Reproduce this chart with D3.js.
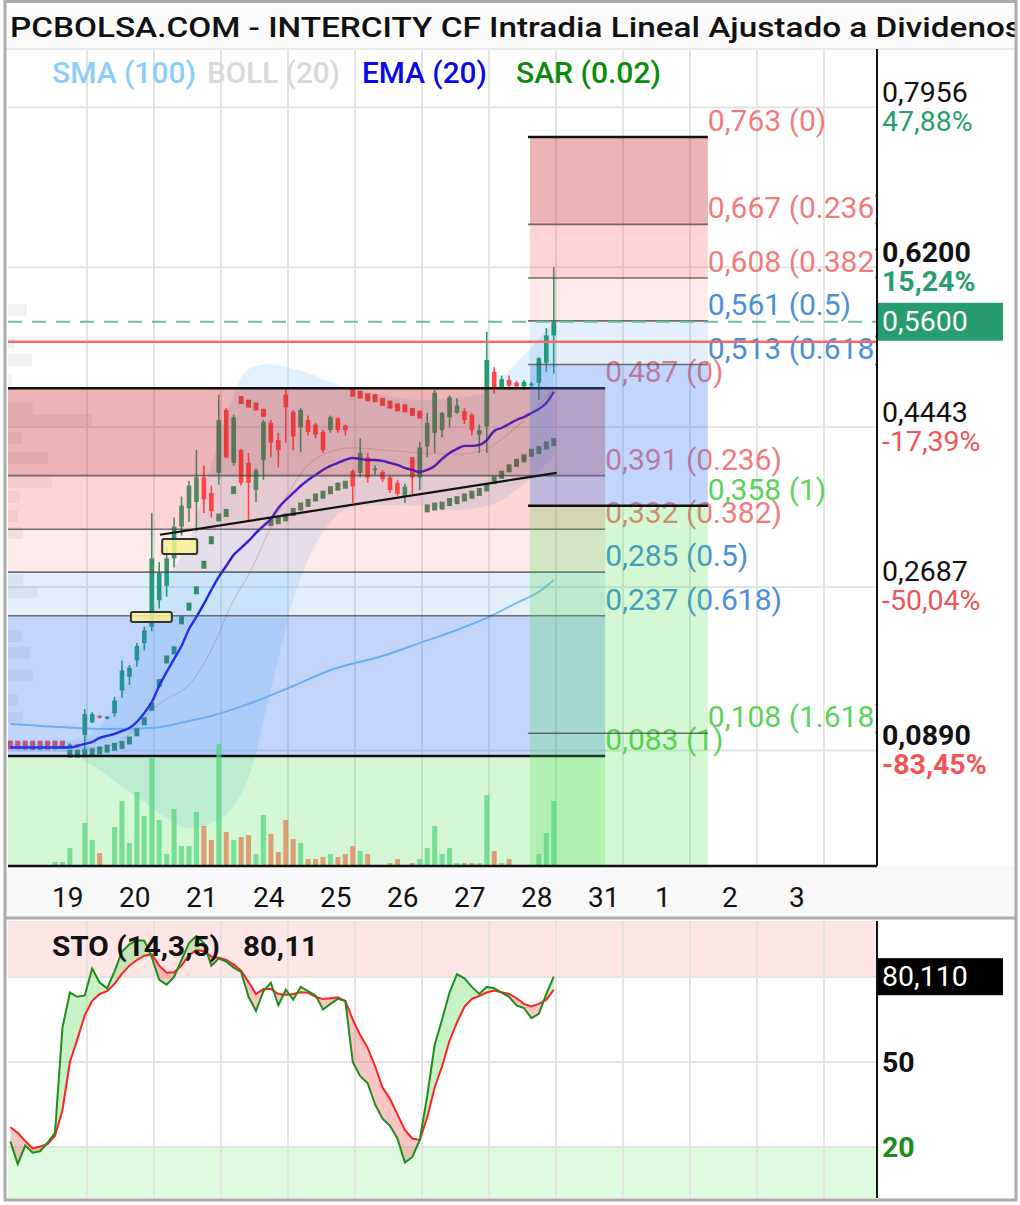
<!DOCTYPE html>
<html><head><meta charset="utf-8">
<script src="https://cdn.jsdelivr.net/npm/d3@7"></script>
<style>body{margin:0;background:#fff;} text{font-family:Roboto,"DejaVu Sans",sans-serif;}</style>
</head><body><svg id="c" width="1020" height="1205"></svg>
<script>
// ---------------- DATA ----------------
const titleText = "PCBOLSA.COM - INTERCITY CF Intradia Lineal Ajustado a Dividenos";
const legendNames = ["SMA (100)", "BOLL (20)", "EMA (20)", "SAR (0.02)"];
const legendColors = ["#8fcdf7", "#d8d8d8", "#0a0ae6", "#0b8a0b"];
const dayLabels = ["19","20","21","24","25","26","27","28","31","1","2","3"];
const firstSlot = -2; // slot of first candle (9 slots per day)
const candleOpen  = [.092,.0918,.0915,.0912,.091,.0915,.0912,.092,.093,.0955,.106,.120,.127,.124,.130,.155,.170,.188,.207,.225,.254,.270,.300,.335,.355,.362,.389,.372,.394,.463,.405,.419,.405,.375,.408,.449,.430,.480,.461,.444,.452,.447,.439,.441,.454,.446,.396,.394,.411,.397,.395,.389,.383,.368,.411,.389,.423,.438,.441,.455,.460,.462,.458,.436,.445,.505,.488,.496,.493,.489,.490,.493,.515,.545];
const candleHigh  = [.0925,.0925,.0922,.092,.092,.092,.0925,.0935,.097,.0965,.1346,.131,.128,.127,.148,.188,.183,.207,.225,.350,.296,.313,.345,.368,.385,.419,.402,.380,.480,.465,.458,.420,.416,.399,.452,.452,.438,.486,.463,.465,.457,.449,.441,.457,.455,.447,.398,.432,.416,.402,.397,.392,.386,.382,.411,.428,.460,.485,.461,.479,.476,.465,.460,.447,.549,.510,.501,.501,.495,.496,.494,.521,.553,.620];
const candleLow   = [.0912,.091,.0908,.0905,.0905,.091,.0905,.0915,.092,.092,.089,.119,.124,.123,.126,.147,.161,.181,.199,.220,.245,.258,.290,.325,.340,.330,.350,.345,.381,.410,.402,.380,.342,.362,.386,.411,.400,.427,.419,.417,.435,.432,.416,.438,.438,.435,.361,.389,.383,.392,.384,.372,.369,.361,.371,.375,.411,.416,.433,.444,.459,.448,.435,.416,.416,.481,.487,.485,.487,.485,.488,.474,.505,.503];
const candleClose = [.0918,.0915,.0912,.091,.0915,.0912,.092,.093,.0955,.093,.129,.129,.125,.126,.144,.177,.180,.204,.221,.300,.284,.300,.335,.358,.380,.389,.365,.352,.452,.411,.455,.383,.383,.397,.450,.427,.419,.466,.434,.463,.439,.436,.419,.455,.441,.441,.379,.416,.389,.399,.387,.375,.371,.379,.389,.422,.449,.482,.460,.477,.468,.452,.441,.441,.518,.488,.497,.490,.489,.494,.492,.520,.545,.560];
const volume = [0,0,0,0,0,0,4,4,18,0,43,26,13,0,39,65,23,74,50,108,46,12,57,20,20,54,40,26,122,34,26,29,31,12,51,32,14,46,27,23,7,7,9,12,9,12,20,15,12,0,0,3,7,0,3,7,18,40,12,18,3,3,3,3,71,15,3,7,0,0,0,12,33,65];
const emaValues = [.0923,.0923,.0923,.0923,.0923,.0923,.0923,.0923,.0923,.0940,.0962,.0984,.1028,.1050,.1072,.1105,.1138,.1204,.1302,.1423,.1599,.1753,.1896,.2038,.2225,.2357,.2500,.2654,.2797,.2917,.3038,.3115,.3192,.3280,.3357,.3434,.3554,.3642,.3719,.3796,.3862,.3917,.3972,.4016,.4049,.4082,.4104,.4093,.4082,.4082,.4071,.4049,.4027,.3994,.3972,.3950,.3972,.4016,.4093,.4159,.4203,.4236,.4236,.4247,.4301,.4400,.4433,.4477,.4521,.4554,.4598,.4642,.4708,.4829];
const sarValues = [.0955,.0955,.0955,.0955,.0955,.0955,.0955,.0955,.0855,.0855,.086,.087,.089,.091,.093,.095,.100,.109,.121,.137,.163,.189,.199,.232,.247,.265,.293,.320,.345,.350,.375,.474,.470,.467,.460,.340,.342,.345,.351,.357,.361,.367,.370,.375,.379,.381,.482,.480,.477,.476,.472,.469,.466,.465,.461,.458,.355,.357,.358,.362,.364,.367,.370,.373,.378,.386,.392,.399,.405,.410,.416,.419,.424,.428];
const sarUp = [0,0,0,0,0,0,0,0,1,1,1,1,1,1,1,1,1,1,1,1,1,1,1,1,1,1,1,1,1,1,1,0,0,0,0,1,1,1,1,1,1,1,1,1,1,1,0,0,0,0,0,0,0,0,0,0,1,1,1,1,1,1,1,1,1,1,1,1,1,1,1,1,1,1];
const bbSlots = [-2,5,7,10,13,15,17,19,22,25,28,30,33,36,38,41,44,48,53,58,62,64,66,69,71];
const bbUpper = [.0984,.0984,.1017,.1149,.1533,.1918,.2412,.2764,.3181,.4027,.4818,.5081,.5136,.5081,.5038,.4938,.4862,.4796,.4741,.4763,.4829,.4983,.5147,.5411,.5598];
const bbMiddle = [.0929,.0929,.0918,.0918,.1006,.1149,.1336,.1456,.1610,.1995,.2544,.2819,.3346,.3807,.4027,.4170,.4214,.4191,.4158,.4147,.4202,.4312,.4444,.4686,.4862];
const bbLower = [.0874,.0874,.0819,.0676,.0490,.0380,.0259,.0149,.0039,.0094,.0281,.0588,.1555,.2544,.2983,.3400,.3565,.3587,.3576,.3532,.3576,.3642,.3752,.3950,.4126];
const smaSlots = [-2,7,10,17,22,25,30,36,41,48,53,58,62,66,69,71];
const smaValues = [.1182,.1138,.1127,.1138,.1215,.1270,.1402,.1599,.1775,.1929,.2071,.2214,.2346,.2511,.2632,.2764];
const stoK = [22,14,20.5,18,18.5,21.5,25,62,74.5,73,73.5,83,78,76,82,89,91.5,93,92.8,87,79,77.3,80,86,92,94.5,92,84,86.5,85.4,83.3,81.8,73,68,75,78,70,75.5,72,76.5,75,73.5,68.5,70.5,72.3,71.5,50,45,42.5,35,30,27.5,23,14.5,16.5,22.5,38,56,65,74.6,81,79.5,76.5,74,76.5,76,74.5,73,70,69,65.5,67,74,80.11];
const stoD = [27,25,22.1,19.5,20.2,21,24,33,50,58,66.5,71.6,74,75,77.6,81.2,84,86,87.5,88,84,81.5,81.7,84,87.8,89.4,89.2,87.2,86.8,86,84.4,82.2,78.2,74,75.8,75.8,74,73.7,74,74.6,74.4,73,72.2,72.5,72.8,71.5,65,59.5,55,48.5,41,37,31.5,26,23,22.5,30.5,41,48.5,57.5,64,69.5,72.3,73.3,74.5,75.2,74.6,74,72.5,70.5,69.6,70.5,72,75.5];
const profilePrice = [.5730,.5368,.5180,.4961,.4653,.4521,.4323,.4104,.3840,.3675,.3467,.3280,.2764,.2632,.2148,.1962,.1720,.1445,.1248];
const profileVol = [19,7,24,4,25,84,14,40,44,12,10,15,15,30,14,22,25,10,15];
const leftFibLevels = [0.487,0.391,0.332,0.285,0.237,0.083];
const leftFibRatios = ["0","0.236","0.382","0.5","0.618","1"];
const leftFibSpan = [-1.62, 78.6];
const rightFibLevels = [0.763,0.667,0.608,0.561,0.513,0.358,0.108];
const rightFibRatios = ["0","0.236","0.382","0.5","0.618","1","1.618"];
const rightFibSpan = [68.5, 92.4];
const trendLine = [{s:18.8, v:0.326},{s:72.1, v:0.394}];
const gapBoxes = [{s0:19.1, s1:23.8, top:0.3214, bot:0.3049},{s0:14.9, s1:20.4, top:0.2412, bot:0.2302}];
const axisValues = [0.7956, 0.62, 0.4443, 0.2687, 0.089];
const axisLabels = ["0,7956","0,6200","0,4443","0,2687","0,0890"];
const axisPct = ["47,88%","15,24%","-17,39%","-50,04%","-83,45%"];
const axisBold = [false,true,false,false,true];
const refPrice = 0.538, lastPrice = 0.56, lastLabel = "0,5600";
const stoTitle = "STO (14,3,5)", stoLast = "80,11", stoLastBox = "80,110";

// ---------------- LAYOUT ----------------
const svg = d3.select("#c");
const PL=8, PR=877, PT=49, PB=866, ST=921, SB=1198;
const X = d3.scaleLinear().domain([0,9]).range([20,87]);
const Y = d3.scaleLinear().domain([0.089,0.7956]).range([750.5,107.3]);
const V = d3.scaleLinear().domain([0,130]).range([866,736]);
const S = d3.scaleLinear().domain([0,100]).range([1203.7,920.3]);
const cx = i => X(i + firstSlot + 0.7);
const bottomVal = Y.invert(PB);

svg.append("rect").attr("width",1020).attr("height",1205).attr("fill","#fff");
svg.append("rect").attr("x",5).attr("y",2).attr("width",1011).attr("height",PT-2).attr("fill","#fbfbfb");
svg.append("rect").attr("x",5).attr("y",PB).attr("width",1011).attr("height",52).attr("fill","#f8f8f8");

const defs = svg.append("defs");
defs.append("clipPath").attr("id","cm").append("rect").attr("x",PL).attr("y",PT).attr("width",PR-PL).attr("height",PB-PT);
defs.append("clipPath").attr("id","cs").append("rect").attr("x",PL).attr("y",ST).attr("width",PR-PL).attr("height",SB-ST);
defs.append("clipPath").attr("id","ct").append("rect").attr("x",5).attr("y",0).attr("width",1010).attr("height",PT);

// title
svg.append("g").attr("clip-path","url(#ct)").append("text")
  .attr("x",10).attr("y",37).attr("font-size",28).attr("font-weight",500).attr("fill","#111")
  .attr("textLength",1012).attr("lengthAdjust","spacingAndGlyphs").text(titleText);
svg.append("line").attr("x1",5).attr("x2",1016).attr("y1",PT).attr("y2",PT).attr("stroke","#e2e2e2").attr("stroke-width",1.5);

const main = svg.append("g").attr("clip-path","url(#cm)");
// grid
const gridDays = d3.range(1,13).map(k=>9*k);
main.selectAll(".vg").data(gridDays).join("line").attr("x1",d=>X(d)).attr("x2",d=>X(d)).attr("y1",PT).attr("y2",PB).attr("stroke","#e4e4e4").attr("stroke-width",2);
main.selectAll(".hg").data(axisValues).join("line").attr("x1",PL).attr("x2",PR).attr("y1",d=>Y(d)).attr("y2",d=>Y(d)).attr("stroke","#e4e4e4").attr("stroke-width",2);

// volume profile
const PW = d3.scaleLinear().domain([0,100]).range([PL, PL+100]);
main.selectAll(".pf").data(profilePrice).join("rect")
  .attr("x",PL).attr("y",d=>Y(d+0.0065)).attr("width",(d,i)=>PW(profileVol[i])-PL).attr("height",d=>Y(d-0.0065)-Y(d+0.0065))
  .attr("fill","rgba(160,160,160,0.14)");

// bollinger
const bb = bbSlots.map((s,i)=>({s, u:bbUpper[i], m:bbMiddle[i], l:bbLower[i]}));
main.append("path").datum(bb).attr("d", d3.area().x(d=>X(d.s+0.7)).y0(d=>Y(d.l)).y1(d=>Y(d.u)).curve(d3.curveMonotoneX))
  .attr("fill","rgba(140,205,250,0.26)");
main.append("path").datum(bb).attr("d", d3.line().x(d=>X(d.s+0.7)).y(d=>Y(d.m)).curve(d3.curveMonotoneX))
  .attr("fill","none").attr("stroke","rgba(200,120,90,0.35)").attr("stroke-width",1.2);
// SMA 100
const sma = smaSlots.map((s,i)=>({s, v:smaValues[i]}));
main.append("path").datum(sma).attr("d", d3.line().x(d=>X(d.s+0.7)).y(d=>Y(d.v)).curve(d3.curveMonotoneX))
  .attr("fill","none").attr("stroke","#86c6f6").attr("stroke-width",2);

// candles
const up = i => candleClose[i] >= candleOpen[i];
const cg = main.append("g");
candleOpen.forEach((o,i)=>{
  const col = up(i) ? "#1f9e6c" : "#ff4646";
  cg.append("line").attr("x1",cx(i)).attr("x2",cx(i)).attr("y1",Y(candleHigh[i])).attr("y2",Y(candleLow[i])).attr("stroke",col).attr("stroke-width",1.6);
  const y1 = Y(Math.max(o,candleClose[i])), y2 = Y(Math.min(o,candleClose[i]));
  cg.append("rect").attr("x",cx(i)-2.3).attr("width",4.6).attr("y",y1).attr("height",Math.max(1.5,y2-y1)).attr("fill",col);
});
// SAR
main.selectAll(".sar").data(sarValues).join("rect")
  .attr("x",(d,i)=>cx(i)-2.5).attr("width",5).attr("y",d=>Y(d)-4).attr("height",8)
  .attr("fill",(d,i)=> sarUp[i] ? "#2f8f5f" : "#f24a4a");
// EMA
main.append("path").datum(emaValues).attr("d", d3.line().x((d,i)=>cx(i)).y(d=>Y(d)).curve(d3.curveMonotoneX))
  .attr("fill","none").attr("stroke","#1616f0").attr("stroke-width",2.4);

// fibonacci
const bandColors = ["rgba(200,40,40,0.35)","rgba(250,60,60,0.22)","rgba(250,60,60,0.11)","rgba(60,140,220,0.14)","rgba(50,120,240,0.30)","rgba(60,220,60,0.22)","rgba(60,220,60,0.22)"];
const labelColor = r => (r==="0"||r==="0.236"||r==="0.382") ? "rgba(240,100,100,0.85)" : (r==="0.5"||r==="0.618") ? "#4a8fdc" : "#5ad35a";
const fmt3 = v => d3.format(".3f")(v).replace(".",",");
const fibRects = main.append("g"), fibTop = main.append("g");
function drawFib(levels, ratios, span, blackIdx){
  const g = main.append("g");
  const x0 = X(span[0]), x1 = X(span[1]);
  const edges = levels.concat([bottomVal]);
  for (let i=0;i<levels.length;i++){
    g.append("rect").attr("x",x0).attr("width",x1-x0).attr("y",Y(edges[i])).attr("height",Y(edges[i+1])-Y(edges[i])).attr("fill",bandColors[i]);
  }
  levels.forEach((v,i)=>{
    const black = blackIdx.includes(i);
    g.append("line").attr("x1",x0-2).attr("x2",x1).attr("y1",Y(v)).attr("y2",Y(v))
     .attr("stroke", black ? "#111" : "rgba(70,70,70,0.75)").attr("stroke-width", black ? 2.5 : 1.6);
  });
  levels.forEach((v,i)=>{
    g.append("text").attr("x",x1).attr("y",Y(v)-6).attr("font-size",30).attr("fill",labelColor(ratios[i]))
     .text(`${fmt3(v)} (${ratios[i]})`);
  });
}
drawFib(leftFibLevels, leftFibRatios, leftFibSpan, [0,5]);
drawFib(rightFibLevels, rightFibRatios, rightFibSpan, [0,5]);

// volume (over the fib shading)
main.selectAll(".vol").data(volume).join("rect")
  .attr("x",(d,i)=>cx(i)-2.5).attr("width",5).attr("y",d=>V(d)).attr("height",d=>V(0)-V(d))
  .attr("fill",(d,i)=> up(i) ? "rgba(80,212,120,0.7)" : "rgba(222,135,90,0.8)");

// trend line
main.append("line").attr("x1",X(trendLine[0].s)).attr("y1",Y(trendLine[0].v)).attr("x2",X(trendLine[1].s)).attr("y2",Y(trendLine[1].v))
  .attr("stroke","#111").attr("stroke-width",2.2);
// reference lines
main.append("line").attr("x1",PL).attr("x2",PR).attr("y1",Y(refPrice)).attr("y2",Y(refPrice)).attr("stroke","#f26a6a").attr("stroke-width",2.5);
main.append("line").attr("x1",PL).attr("x2",PR).attr("y1",Y(lastPrice)).attr("y2",Y(lastPrice)).attr("stroke","#6cbf9d").attr("stroke-width",2).attr("stroke-dasharray","14,10");
// gap boxes
main.selectAll(".gap").data(gapBoxes).join("rect")
  .attr("x",d=>X(d.s0)).attr("width",d=>X(d.s1)-X(d.s0)).attr("y",d=>Y(d.top)).attr("height",d=>Y(d.bot)-Y(d.top))
  .attr("rx",2).attr("fill","rgba(250,240,150,0.85)").attr("stroke","#333").attr("stroke-width",2);

// legend
const legX = [52,207,362,516], legW=[144,133,125,145];
legendNames.forEach((n,i)=>{
  svg.append("text").attr("x",legX[i]).attr("y",83).attr("font-size",29).attr("font-weight",500).attr("fill",legendColors[i])
    .attr("textLength",legW[i]).attr("lengthAdjust","spacingAndGlyphs").text(n);
});

// axes lines
svg.append("line").attr("x1",PR).attr("x2",PR).attr("y1",PT).attr("y2",PB).attr("stroke","#111").attr("stroke-width",2);
svg.append("line").attr("x1",PL).attr("x2",PR).attr("y1",PB).attr("y2",PB).attr("stroke","#111").attr("stroke-width",2.5);

// right axis labels
axisValues.forEach((v,i)=>{
  svg.append("text").attr("x",882).attr("y",Y(v)-15).attr("dominant-baseline","central").attr("font-size",28.5)
    .attr("font-weight",axisBold[i]?700:400).attr("fill","#111").text(axisLabels[i]);
  svg.append("text").attr("x",882).attr("y",Y(v)+14).attr("dominant-baseline","central").attr("font-size",28.5)
    .attr("font-weight",axisBold[i]?700:400).attr("fill", v>refPrice ? "#2a9d70" : "#f25555").text(axisPct[i]);
});
svg.append("rect").attr("x",878).attr("y",Y(lastPrice)-19).attr("width",125).attr("height",38).attr("fill","#279c70");
svg.append("text").attr("x",882).attr("y",Y(lastPrice)).attr("dominant-baseline","central").attr("font-size",28.5).attr("fill","#fff").text(lastLabel);

// x labels
svg.selectAll(".xl").data(dayLabels).join("text")
  .attr("x",(d,i)=>X(9*(i+1))-35).attr("y",897).attr("dominant-baseline","central").attr("font-size",28).attr("fill","#111").text(d=>d);

// separator
svg.append("line").attr("x1",5).attr("x2",1016).attr("y1",918).attr("y2",918).attr("stroke","#ababab").attr("stroke-width",3);

// ---------------- STOCHASTIC ----------------
const sto = svg.append("g").attr("clip-path","url(#cs)");
sto.append("rect").attr("x",PL).attr("width",PR-PL).attr("y",S(100)).attr("height",S(80)-S(100)).attr("fill","#fee6e6");
sto.append("rect").attr("x",PL).attr("width",PR-PL).attr("y",S(20)).attr("height",S(0)-S(20)).attr("fill","#dffbdf");
sto.selectAll(".vg").data(gridDays).join("line").attr("x1",d=>X(d)).attr("x2",d=>X(d)).attr("y1",ST).attr("y2",SB).attr("stroke","#e4e4e4").attr("stroke-width",2);
sto.selectAll(".hg").data([80,50,20]).join("line").attr("x1",PL).attr("x2",PR).attr("y1",d=>S(d)).attr("y2",d=>S(d)).attr("stroke","#e4e4e4").attr("stroke-width",2);
const kd = stoK.map((k,i)=>({i,k,d:stoD[i]}));
const areaKD = d3.area().x(d=>cx(d.i)).y0(d=>S(d.d)).y1(d=>S(d.k));
defs.append("clipPath").attr("id","aboveD").append("path").datum(kd).attr("d", d3.area().x(d=>cx(d.i)).y0(d=>S(d.d)).y1(ST-10));
defs.append("clipPath").attr("id","belowD").append("path").datum(kd).attr("d", d3.area().x(d=>cx(d.i)).y0(d=>S(d.d)).y1(SB+10));
sto.append("g").attr("clip-path","url(#aboveD)").append("path").datum(kd).attr("d",areaKD).attr("fill","rgba(120,225,120,0.42)");
sto.append("g").attr("clip-path","url(#belowD)").append("path").datum(kd).attr("d",areaKD).attr("fill","rgba(240,120,120,0.42)");
sto.append("path").datum(kd).attr("d", d3.line().x(d=>cx(d.i)).y(d=>S(d.d))).attr("fill","none").attr("stroke","#ff2020").attr("stroke-width",2);
sto.append("path").datum(kd).attr("d", d3.line().x(d=>cx(d.i)).y(d=>S(d.k))).attr("fill","none").attr("stroke","#1f8c1f").attr("stroke-width",2);
svg.append("text").attr("x",52).attr("y",946).attr("dominant-baseline","central").attr("font-size",28.5).attr("font-weight",700).attr("fill","#111")
  .attr("textLength",168).attr("lengthAdjust","spacingAndGlyphs").text(stoTitle);
svg.append("text").attr("x",243).attr("y",946).attr("dominant-baseline","central").attr("font-size",28.5).attr("font-weight",700).attr("fill","#111")
  .attr("textLength",75).attr("lengthAdjust","spacingAndGlyphs").text(stoLast);
svg.append("line").attr("x1",PR).attr("x2",PR).attr("y1",ST).attr("y2",SB).attr("stroke","#111").attr("stroke-width",2);
svg.append("rect").attr("x",878).attr("y",S(stoK[stoK.length-1])-18.5).attr("width",125).attr("height",37).attr("fill","#000");
svg.append("text").attr("x",882).attr("y",S(stoK[stoK.length-1])).attr("dominant-baseline","central").attr("font-size",28.5).attr("fill","#fff").text(stoLastBox);
svg.append("text").attr("x",882).attr("y",S(50)).attr("dominant-baseline","central").attr("font-size",28.5).attr("font-weight",700).attr("fill","#111").text("50");
svg.append("text").attr("x",882).attr("y",S(20)).attr("dominant-baseline","central").attr("font-size",28.5).attr("font-weight",700).attr("fill","#1a8c1a").text("20");

// frame
svg.append("rect").attr("x",5).attr("y",1.5).attr("width",1011).attr("height",1198.5).attr("fill","none").attr("stroke","#ababab").attr("stroke-width",3);
</script></body></html>
